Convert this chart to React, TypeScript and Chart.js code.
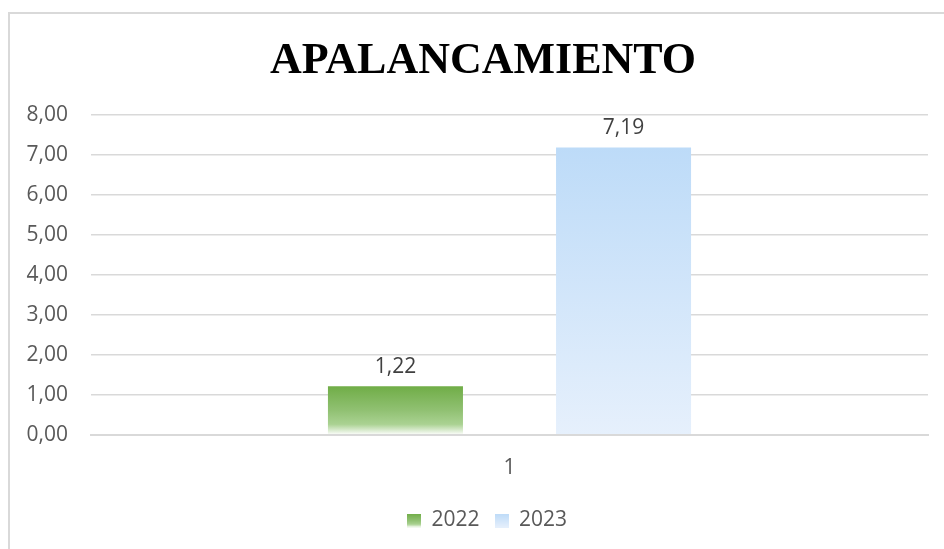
import React, { useEffect, useRef } from "react";
import { Chart, registerables } from "chart.js";

Chart.register(...registerables);

const TITLE = "APALANCAMIENTO";
const CATEGORIES = ["1"];
const SERIES_NAMES = ["2022", "2023"];
const VALUES_2022 = [1.22];
const VALUES_2023 = [7.19];
const Y_MIN = 0;
const Y_MAX = 8;
const Y_STEP = 1;

const GREEN_STOPS: [number, string][] = [
  [0, "rgb(112,173,71)"],
  [0.5, "rgb(145,193,115)"],
  [0.78, "rgb(170,210,146)"],
  [1, "rgb(255,255,255)"],
];
const BLUE_STOPS: [number, string][] = [
  [0, "rgb(189,219,248)"],
  [1, "rgb(230,240,252)"],
];

const FONT = "'Open Sans', 'Noto Sans', sans-serif";

function fmt(v: number) {
  return v.toFixed(2).replace(".", ",");
}

function barGradient(stops: [number, string][], fallback: string) {
  return (c: any) => {
    const chart = c.chart;
    const y = chart.scales?.y;
    if (!chart.chartArea || !y || c.raw == null) return fallback;
    const top = y.getPixelForValue(c.raw);
    const bottom = y.getPixelForValue(0);
    if (!isFinite(top) || !isFinite(bottom) || top === bottom) return fallback;
    const g = chart.ctx.createLinearGradient(0, top, 0, bottom);
    stops.forEach(([o, col]) => g.addColorStop(o, col));
    return g;
  };
}

function legendIcon(stops: [number, string][]) {
  const cv = document.createElement("canvas");
  cv.width = 14;
  cv.height = 14;
  const cx = cv.getContext("2d")!;
  const g = cx.createLinearGradient(0, 0, 0, 14);
  stops.forEach(([o, col]) => g.addColorStop(o, col));
  cx.fillStyle = g;
  cx.fillRect(0, 0, 14, 14);
  return cv;
}

const framePlugin = {
  id: "frameAndTitle",
  afterLayout(chart: any) {
    if (chart.legend) {
      chart.legend.left += 46;
      chart.legend.top += 2;
    }
  },
  beforeDraw(chart: any) {
    const ctx = chart.ctx;
    ctx.save();
    ctx.fillStyle = "#ffffff";
    ctx.fillRect(0, 0, chart.width, chart.height);
    ctx.strokeStyle = "#d9d9d9";
    ctx.lineWidth = 2;
    ctx.beginPath();
    ctx.moveTo(9, chart.height);
    ctx.lineTo(9, 13);
    ctx.lineTo(chart.width, 13);
    ctx.stroke();
    ctx.fillStyle = "#000000";
    ctx.font = "bold 44px 'Liberation Serif', 'Times New Roman', serif";
    ctx.textAlign = "center";
    ctx.textBaseline = "alphabetic";
    ctx.fillText(TITLE, 483, 73);
    ctx.restore();
  },
  afterDatasetsDraw(chart: any) {
    const ctx = chart.ctx;
    ctx.save();
    ctx.fillStyle = "#404040";
    ctx.font = "21px " + FONT;
    ctx.textAlign = "center";
    ctx.textBaseline = "bottom";
    chart.data.datasets.forEach((ds: any, i: number) => {
      const meta = chart.getDatasetMeta(i);
      meta.data.forEach((el: any, j: number) => {
        ctx.fillText(fmt(ds.data[j]), el.x, el.y - 9);
      });
    });
    ctx.restore();
  },
};

export default function App() {
  const ref = useRef<HTMLCanvasElement>(null);
  useEffect(() => {
    const canvas = ref.current!;
    const chart = new Chart(canvas, {
      type: "bar",
      data: {
        labels: CATEGORIES,
        datasets: [
          {
            label: SERIES_NAMES[0],
            data: VALUES_2022,
            backgroundColor: barGradient(GREEN_STOPS, "rgb(112,173,71)") as any,
            categoryPercentage: 0.545,
            barPercentage: 0.592,
          },
          {
            label: SERIES_NAMES[1],
            data: VALUES_2023,
            backgroundColor: barGradient(BLUE_STOPS, "rgb(189,219,248)") as any,
            categoryPercentage: 0.545,
            barPercentage: 0.592,
          },
        ],
      },
      options: {
        animation: false,
        responsive: false,
        maintainAspectRatio: false,
        layout: { padding: { top: 115, right: 16, bottom: 10, left: 0 } },
        plugins: {
          title: { display: false },
          tooltip: { enabled: false },
          legend: {
            position: "bottom",
            labels: {
              font: { family: FONT, size: 21 },
              color: "#595959",
              usePointStyle: true,
              boxWidth: 14,
              boxHeight: 14,
              padding: 15,
              generateLabels: (ch: any) =>
                ch.data.datasets.map((ds: any, i: number) => ({
                  text: ds.label,
                  pointStyle: legendIcon(i === 0 ? GREEN_STOPS : BLUE_STOPS),
                  fillStyle: "transparent",
                  strokeStyle: "transparent",
                  lineWidth: 0,
                  fontColor: "#595959",
                  hidden: false,
                  datasetIndex: i,
                })),
            },
          },
        },
        scales: {
          x: {
            grid: { display: false, drawTicks: false },
            border: { display: true, color: "#d9d9d9", width: 2 },
            ticks: { font: { family: FONT, size: 21 }, color: "#595959", padding: 20 },
            afterFit: (s: any) => {
              s.height = 58;
            },
          },
          y: {
            min: Y_MIN,
            max: Y_MAX,
            ticks: {
              stepSize: Y_STEP,
              font: { family: FONT, size: 21 },
              color: "#595959",
              padding: 23,
              callback: (v: any) => fmt(Number(v)),
            },
            grid: {
              color: "#d9d9d9",
              lineWidth: (c: any) => (c.tick && c.tick.value === 0 ? 2 : 1.5),
              drawTicks: false,
            },
            border: { display: false },
            afterFit: (s: any) => {
              s.width = 91;
            },
          },
        },
      },
      plugins: [framePlugin],
    });
    return () => chart.destroy();
  }, []);
  return (
    <div style={{ position: "fixed", left: 0, top: 0, width: 944, height: 549, background: "#fff" }}>
      <canvas ref={ref} width={944} height={549} style={{ width: 944, height: 549, display: "block" }} />
    </div>
  );
}
